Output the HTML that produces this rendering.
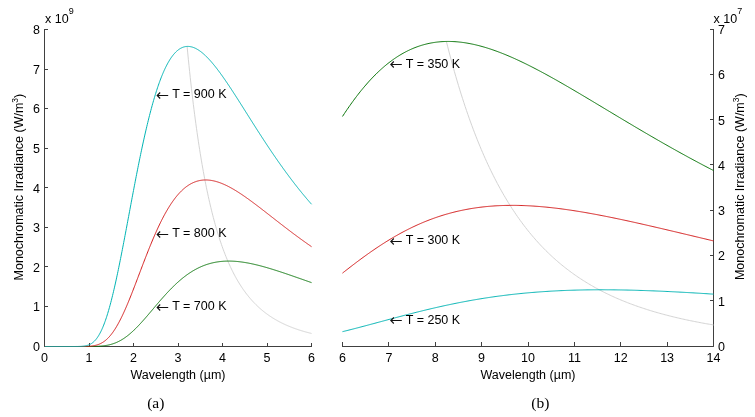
<!DOCTYPE html>
<html><head><meta charset="utf-8"><style>
html,body{margin:0;padding:0;background:#fff;}
svg{display:block;font-family:"Liberation Sans",sans-serif;}
</style></head><body>
<svg width="755" height="417" viewBox="0 0 755 417">
<rect width="755" height="417" fill="#fff"/>
<path d="M44.5,29.0 V346.5 H312.0" stroke="#404040" fill="none" stroke-width="1"/>
<path d="M44.5,346.5 H48" stroke="#404040" stroke-width="1"/>
<path d="M44.5,306.5 H48" stroke="#404040" stroke-width="1"/>
<path d="M44.5,266.5 H48" stroke="#404040" stroke-width="1"/>
<path d="M44.5,227.5 H48" stroke="#404040" stroke-width="1"/>
<path d="M44.5,187.5 H48" stroke="#404040" stroke-width="1"/>
<path d="M44.5,148.5 H48" stroke="#404040" stroke-width="1"/>
<path d="M44.5,108.5 H48" stroke="#404040" stroke-width="1"/>
<path d="M44.5,69.5 H48" stroke="#404040" stroke-width="1"/>
<path d="M44.5,29.5 H48" stroke="#404040" stroke-width="1"/>
<path d="M44.5,346.5 V343" stroke="#404040" stroke-width="1"/>
<path d="M89.5,346.5 V343" stroke="#404040" stroke-width="1"/>
<path d="M133.5,346.5 V343" stroke="#404040" stroke-width="1"/>
<path d="M178.5,346.5 V343" stroke="#404040" stroke-width="1"/>
<path d="M222.5,346.5 V343" stroke="#404040" stroke-width="1"/>
<path d="M267.5,346.5 V343" stroke="#404040" stroke-width="1"/>
<path d="M311.5,346.5 V343" stroke="#404040" stroke-width="1"/>
<path d="M342.0,346.5 H713.5 V29.0" stroke="#404040" fill="none" stroke-width="1"/>
<path d="M713.5,346.5 H710" stroke="#404040" stroke-width="1"/>
<path d="M713.5,300.5 H710" stroke="#404040" stroke-width="1"/>
<path d="M713.5,255.5 H710" stroke="#404040" stroke-width="1"/>
<path d="M713.5,210.5 H710" stroke="#404040" stroke-width="1"/>
<path d="M713.5,164.5 H710" stroke="#404040" stroke-width="1"/>
<path d="M713.5,119.5 H710" stroke="#404040" stroke-width="1"/>
<path d="M713.5,74.5 H710" stroke="#404040" stroke-width="1"/>
<path d="M713.5,29.5 H710" stroke="#404040" stroke-width="1"/>
<path d="M342.5,346.5 V342" stroke="#404040" stroke-width="1"/>
<path d="M388.5,346.5 V342" stroke="#404040" stroke-width="1"/>
<path d="M435.5,346.5 V342" stroke="#404040" stroke-width="1"/>
<path d="M481.5,346.5 V342" stroke="#404040" stroke-width="1"/>
<path d="M528.5,346.5 V342" stroke="#404040" stroke-width="1"/>
<path d="M574.5,346.5 V342" stroke="#404040" stroke-width="1"/>
<path d="M620.5,346.5 V342" stroke="#404040" stroke-width="1"/>
<path d="M667.5,346.5 V342" stroke="#404040" stroke-width="1"/>
<path d="M713.5,346.5 V342" stroke="#404040" stroke-width="1"/>
<path d="M187.10,46.43 L187.72,52.92 L188.35,59.24 L188.97,65.40 L189.60,71.41 L190.22,77.26 L190.85,82.96 L191.47,88.51 L192.10,93.93 L192.72,99.21 L193.35,104.36 L193.97,109.38 L194.60,114.28 L195.22,119.06 L195.85,123.72 L196.47,128.26 L197.10,132.69 L197.73,137.02 L198.35,141.24 L198.98,145.36 L199.60,149.38 L200.23,153.31 L200.85,157.14 L201.48,160.88 L202.10,164.53 L202.73,168.10 L203.35,171.58 L203.98,174.98 L204.60,178.30 L205.23,181.55 L205.85,184.72 L206.48,187.82 L207.10,190.85 L207.73,193.80 L208.35,196.69 L208.98,199.52 L209.60,202.28 L210.23,204.98 L210.85,207.62 L211.48,210.20 L212.10,212.72 L212.73,215.19 L213.35,217.60 L213.98,219.96 L214.60,222.27 L215.23,224.53 L215.85,226.74 L216.48,228.90 L217.10,231.01 L217.73,233.08 L218.35,235.11 L218.98,237.09 L219.60,239.03 L220.23,240.92 L220.86,242.78 L221.48,244.60 L222.11,246.38 L222.73,248.13 L223.36,249.83 L223.98,251.50 L224.61,253.14 L225.23,254.75 L225.86,256.32 L226.48,257.85 L227.11,259.36 L227.73,260.84 L228.36,262.28 L228.98,263.70 L229.61,265.09 L230.23,266.45 L230.86,267.78 L231.48,269.09 L232.11,270.37 L232.73,271.63 L233.36,272.86 L233.98,274.07 L234.61,275.25 L235.23,276.41 L235.86,277.55 L236.48,278.66 L237.11,279.76 L237.73,280.83 L238.36,281.88 L238.98,282.91 L239.61,283.92 L240.23,284.92 L240.86,285.89 L241.48,286.85 L242.11,287.78 L242.73,288.70 L243.36,289.61 L243.99,290.49 L244.61,291.36 L245.24,292.22 L245.86,293.05 L246.49,293.88 L247.11,294.68 L247.74,295.47 L248.36,296.25 L248.99,297.02 L249.61,297.76 L250.24,298.50 L250.86,299.22 L251.49,299.93 L252.11,300.63 L252.74,301.31 L253.36,301.99 L253.99,302.65 L254.61,303.30 L255.24,303.93 L255.86,304.56 L256.49,305.17 L257.11,305.78 L257.74,306.37 L258.36,306.95 L258.99,307.53 L259.61,308.09 L260.24,308.64 L260.86,309.19 L261.49,309.72 L262.11,310.25 L262.74,310.76 L263.36,311.27 L263.99,311.77 L264.61,312.26 L265.24,312.74 L265.87,313.22 L266.49,313.68 L267.12,314.14 L267.74,314.59 L268.37,315.03 L268.99,315.47 L269.62,315.90 L270.24,316.32 L270.87,316.73 L271.49,317.14 L272.12,317.54 L272.74,317.94 L273.37,318.32 L273.99,318.71 L274.62,319.08 L275.24,319.45 L275.87,319.81 L276.49,320.17 L277.12,320.52 L277.74,320.87 L278.37,321.21 L278.99,321.55 L279.62,321.88 L280.24,322.20 L280.87,322.52 L281.49,322.83 L282.12,323.14 L282.74,323.45 L283.37,323.75 L283.99,324.04 L284.62,324.34 L285.24,324.62 L285.87,324.90 L286.49,325.18 L287.12,325.45 L287.74,325.72 L288.37,325.99 L289.00,326.25 L289.62,326.51 L290.25,326.76 L290.87,327.01 L291.50,327.25 L292.12,327.50 L292.75,327.73 L293.37,327.97 L294.00,328.20 L294.62,328.43 L295.25,328.65 L295.87,328.87 L296.50,329.09 L297.12,329.30 L297.75,329.51 L298.37,329.72 L299.00,329.93 L299.62,330.13 L300.25,330.33 L300.87,330.53 L301.50,330.72 L302.12,330.91 L302.75,331.10 L303.37,331.28 L304.00,331.46 L304.62,331.64 L305.25,331.82 L305.87,332.00 L306.50,332.17 L307.12,332.34 L307.75,332.51 L308.37,332.67 L309.00,332.83 L309.62,332.99 L310.25,333.15 L310.87,333.31 L311.50,333.46" stroke="#d4d4d4" fill="none" stroke-width="1"/>
<path d="M44.95,346.50 L45.39,346.50 L45.84,346.50 L46.28,346.50 L46.73,346.50 L47.17,346.50 L47.62,346.50 L48.06,346.50 L48.51,346.50 L48.95,346.50 L49.40,346.50 L49.84,346.50 L50.28,346.50 L50.73,346.50 L51.17,346.50 L51.62,346.50 L52.06,346.50 L52.51,346.50 L52.95,346.50 L53.40,346.50 L53.84,346.50 L54.29,346.50 L54.73,346.50 L55.18,346.50 L55.62,346.50 L56.07,346.50 L56.52,346.50 L56.96,346.50 L57.41,346.50 L57.85,346.50 L58.30,346.50 L58.74,346.50 L59.19,346.50 L59.63,346.50 L60.08,346.50 L60.52,346.50 L60.97,346.50 L61.41,346.50 L61.86,346.50 L62.30,346.50 L62.75,346.50 L63.19,346.50 L63.64,346.50 L64.08,346.50 L64.53,346.50 L64.97,346.50 L65.42,346.50 L65.86,346.50 L66.31,346.50 L66.75,346.50 L67.19,346.50 L67.64,346.50 L68.09,346.50 L68.53,346.50 L68.97,346.50 L69.42,346.50 L69.87,346.50 L70.31,346.50 L70.75,346.50 L71.20,346.50 L71.64,346.50 L72.09,346.50 L72.53,346.50 L72.98,346.50 L73.42,346.50 L73.87,346.50 L74.31,346.50 L74.76,346.50 L75.20,346.50 L75.65,346.50 L76.09,346.50 L76.54,346.50 L76.98,346.50 L77.43,346.50 L77.88,346.50 L78.32,346.50 L78.77,346.50 L79.21,346.50 L79.66,346.50 L80.10,346.50 L80.55,346.50 L80.99,346.50 L81.44,346.50 L81.88,346.50 L82.32,346.50 L82.77,346.50 L83.22,346.50 L83.66,346.50 L84.11,346.50 L84.55,346.50 L85.00,346.50 L85.44,346.50 L85.88,346.49 L86.33,346.49 L86.78,346.49 L87.22,346.49 L87.66,346.49 L88.11,346.49 L88.56,346.49 L89.00,346.48 L89.44,346.48 L89.89,346.48 L90.34,346.47 L90.78,346.47 L91.22,346.46 L91.67,346.46 L92.12,346.45 L92.56,346.45 L93.00,346.44 L93.45,346.43 L93.90,346.42 L94.34,346.41 L94.78,346.40 L95.23,346.39 L95.68,346.37 L96.12,346.36 L96.56,346.34 L97.01,346.32 L97.45,346.30 L97.90,346.28 L98.34,346.26 L98.79,346.24 L99.23,346.21 L99.68,346.18 L100.12,346.15 L100.57,346.12 L101.02,346.08 L101.46,346.04 L101.91,346.00 L102.35,345.96 L102.80,345.91 L103.24,345.86 L103.69,345.81 L104.13,345.75 L104.58,345.70 L105.02,345.63 L105.47,345.57 L105.91,345.50 L106.36,345.42 L106.80,345.34 L107.25,345.26 L107.69,345.18 L108.13,345.09 L108.58,344.99 L109.03,344.89 L109.47,344.79 L109.91,344.68 L110.36,344.56 L110.80,344.45 L111.25,344.32 L111.69,344.19 L112.14,344.06 L112.59,343.92 L113.03,343.77 L113.48,343.62 L113.92,343.47 L114.36,343.31 L114.81,343.14 L115.26,342.96 L115.70,342.79 L116.15,342.60 L116.59,342.41 L117.03,342.21 L117.48,342.01 L117.93,341.80 L118.37,341.58 L118.81,341.36 L119.26,341.13 L119.70,340.90 L120.15,340.66 L120.59,340.41 L121.04,340.16 L121.48,339.90 L121.93,339.63 L122.38,339.36 L122.82,339.08 L123.27,338.80 L123.71,338.51 L124.16,338.21 L124.60,337.91 L125.05,337.60 L125.49,337.28 L125.94,336.96 L126.38,336.63 L126.83,336.30 L127.27,335.96 L127.72,335.61 L128.16,335.26 L128.61,334.90 L129.05,334.54 L129.50,334.17 L129.94,333.80 L130.38,333.42 L130.83,333.03 L131.28,332.64 L131.72,332.24 L132.16,331.84 L132.61,331.43 L133.06,331.02 L133.50,330.61 L133.94,330.18 L134.39,329.76 L134.84,329.33 L135.28,328.89 L135.72,328.45 L136.17,328.00 L136.62,327.56 L137.06,327.10 L137.50,326.65 L137.95,326.18 L138.39,325.72 L138.84,325.25 L139.28,324.78 L139.73,324.30 L140.18,323.82 L140.62,323.34 L141.06,322.85 L141.51,322.36 L141.95,321.87 L142.40,321.38 L142.84,320.88 L143.29,320.38 L143.74,319.88 L144.18,319.37 L144.62,318.87 L145.07,318.36 L145.51,317.85 L145.96,317.33 L146.41,316.82 L146.85,316.30 L147.30,315.79 L147.74,315.27 L148.19,314.75 L148.63,314.22 L149.07,313.70 L149.52,313.18 L149.97,312.65 L150.41,312.13 L150.86,311.60 L151.30,311.08 L151.75,310.55 L152.19,310.02 L152.63,309.50 L153.08,308.97 L153.53,308.44 L153.97,307.92 L154.42,307.39 L154.86,306.86 L155.31,306.34 L155.75,305.81 L156.20,305.29 L156.64,304.77 L157.09,304.24 L157.53,303.72 L157.98,303.20 L158.42,302.68 L158.87,302.16 L159.31,301.65 L159.75,301.13 L160.20,300.62 L160.64,300.10 L161.09,299.59 L161.53,299.08 L161.98,298.58 L162.43,298.07 L162.87,297.57 L163.31,297.07 L163.76,296.57 L164.20,296.07 L164.65,295.58 L165.09,295.08 L165.54,294.59 L165.99,294.11 L166.43,293.62 L166.88,293.14 L167.32,292.66 L167.76,292.18 L168.21,291.71 L168.66,291.24 L169.10,290.77 L169.55,290.30 L169.99,289.84 L170.44,289.38 L170.88,288.93 L171.32,288.47 L171.77,288.02 L172.22,287.58 L172.66,287.13 L173.11,286.69 L173.55,286.26 L174.00,285.82 L174.44,285.39 L174.88,284.97 L175.33,284.54 L175.78,284.13 L176.22,283.71 L176.67,283.30 L177.11,282.89 L177.56,282.48 L178.00,282.08 L178.45,281.69 L178.89,281.29 L179.34,280.90 L179.78,280.52 L180.23,280.14 L180.67,279.76 L181.12,279.38 L181.56,279.01 L182.00,278.65 L182.45,278.28 L182.89,277.92 L183.34,277.57 L183.78,277.22 L184.23,276.87 L184.68,276.53 L185.12,276.19 L185.56,275.86 L186.01,275.52 L186.45,275.20 L186.90,274.87 L187.34,274.56 L187.79,274.24 L188.23,273.93 L188.68,273.62 L189.12,273.32 L189.57,273.02 L190.02,272.73 L190.46,272.44 L190.91,272.15 L191.35,271.87 L191.79,271.59 L192.24,271.31 L192.69,271.04 L193.13,270.78 L193.58,270.51 L194.02,270.26 L194.47,270.00 L194.91,269.75 L195.36,269.50 L195.80,269.26 L196.25,269.02 L196.69,268.79 L197.13,268.56 L197.58,268.33 L198.03,268.11 L198.47,267.89 L198.92,267.67 L199.36,267.46 L199.81,267.25 L200.25,267.05 L200.70,266.85 L201.14,266.65 L201.59,266.46 L202.03,266.27 L202.47,266.09 L202.92,265.91 L203.37,265.73 L203.81,265.55 L204.25,265.38 L204.70,265.22 L205.15,265.06 L205.59,264.90 L206.03,264.74 L206.48,264.59 L206.92,264.44 L207.37,264.30 L207.81,264.16 L208.26,264.02 L208.70,263.88 L209.15,263.75 L209.59,263.63 L210.04,263.50 L210.49,263.38 L210.93,263.26 L211.38,263.15 L211.82,263.04 L212.26,262.93 L212.71,262.83 L213.16,262.73 L213.60,262.63 L214.05,262.54 L214.49,262.45 L214.94,262.36 L215.38,262.27 L215.83,262.19 L216.27,262.11 L216.72,262.04 L217.16,261.97 L217.60,261.90 L218.05,261.83 L218.50,261.77 L218.94,261.71 L219.39,261.65 L219.83,261.60 L220.28,261.55 L220.72,261.50 L221.17,261.45 L221.61,261.41 L222.06,261.37 L222.50,261.33 L222.94,261.30 L223.39,261.26 L223.84,261.24 L224.28,261.21 L224.72,261.19 L225.17,261.16 L225.62,261.15 L226.06,261.13 L226.50,261.12 L226.95,261.10 L227.40,261.10 L227.84,261.09 L228.28,261.09 L228.73,261.09 L229.18,261.09 L229.62,261.09 L230.06,261.10 L230.51,261.10 L230.96,261.12 L231.40,261.13 L231.84,261.14 L232.29,261.16 L232.74,261.18 L233.18,261.20 L233.62,261.23 L234.07,261.25 L234.52,261.28 L234.96,261.31 L235.41,261.34 L235.85,261.38 L236.30,261.41 L236.74,261.45 L237.19,261.49 L237.63,261.54 L238.08,261.58 L238.52,261.63 L238.97,261.68 L239.41,261.73 L239.85,261.78 L240.30,261.83 L240.75,261.89 L241.19,261.94 L241.63,262.00 L242.08,262.06 L242.53,262.13 L242.97,262.19 L243.41,262.26 L243.86,262.33 L244.31,262.39 L244.75,262.47 L245.19,262.54 L245.64,262.61 L246.09,262.69 L246.53,262.77 L246.97,262.84 L247.42,262.92 L247.87,263.01 L248.31,263.09 L248.75,263.17 L249.20,263.26 L249.65,263.35 L250.09,263.44 L250.53,263.53 L250.98,263.62 L251.43,263.71 L251.87,263.81 L252.31,263.90 L252.76,264.00 L253.21,264.10 L253.65,264.20 L254.09,264.30 L254.54,264.40 L254.99,264.50 L255.43,264.61 L255.88,264.71 L256.32,264.82 L256.76,264.92 L257.21,265.03 L257.65,265.14 L258.10,265.25 L258.55,265.37 L258.99,265.48 L259.44,265.59 L259.88,265.71 L260.33,265.82 L260.77,265.94 L261.22,266.06 L261.66,266.18 L262.11,266.30 L262.55,266.42 L263.00,266.54 L263.44,266.66 L263.88,266.79 L264.33,266.91 L264.77,267.03 L265.22,267.16 L265.66,267.29 L266.11,267.41 L266.56,267.54 L267.00,267.67 L267.44,267.80 L267.89,267.93 L268.34,268.06 L268.78,268.19 L269.23,268.33 L269.67,268.46 L270.12,268.59 L270.56,268.73 L271.00,268.86 L271.45,269.00 L271.89,269.14 L272.34,269.27 L272.78,269.41 L273.23,269.55 L273.68,269.69 L274.12,269.83 L274.56,269.97 L275.01,270.11 L275.46,270.25 L275.90,270.39 L276.35,270.54 L276.79,270.68 L277.24,270.82 L277.68,270.96 L278.12,271.11 L278.57,271.25 L279.01,271.40 L279.46,271.54 L279.90,271.69 L280.35,271.84 L280.80,271.98 L281.24,272.13 L281.69,272.28 L282.13,272.43 L282.58,272.57 L283.02,272.72 L283.47,272.87 L283.91,273.02 L284.36,273.17 L284.80,273.32 L285.25,273.47 L285.69,273.62 L286.13,273.77 L286.58,273.92 L287.02,274.07 L287.47,274.22 L287.91,274.38 L288.36,274.53 L288.81,274.68 L289.25,274.83 L289.69,274.99 L290.14,275.14 L290.59,275.29 L291.03,275.45 L291.48,275.60 L291.92,275.75 L292.37,275.91 L292.81,276.06 L293.25,276.22 L293.70,276.37 L294.14,276.52 L294.59,276.68 L295.03,276.83 L295.48,276.99 L295.93,277.14 L296.37,277.30 L296.81,277.45 L297.26,277.61 L297.71,277.77 L298.15,277.92 L298.60,278.08 L299.04,278.23 L299.49,278.39 L299.93,278.54 L300.38,278.70 L300.82,278.86 L301.27,279.01 L301.71,279.17 L302.15,279.32 L302.60,279.48 L303.05,279.64 L303.49,279.79 L303.94,279.95 L304.38,280.10 L304.83,280.26 L305.27,280.42 L305.72,280.57 L306.16,280.73 L306.60,280.88 L307.05,281.04 L307.50,281.20 L307.94,281.35 L308.38,281.51 L308.83,281.66 L309.28,281.82 L309.72,281.98 L310.17,282.13 L310.61,282.29 L311.06,282.44 L311.50,282.60" stroke="#087508" fill="none" stroke-width="1"/>
<path d="M44.95,346.50 L45.39,346.50 L45.84,346.50 L46.28,346.50 L46.73,346.50 L47.17,346.50 L47.62,346.50 L48.06,346.50 L48.51,346.50 L48.95,346.50 L49.40,346.50 L49.84,346.50 L50.28,346.50 L50.73,346.50 L51.17,346.50 L51.62,346.50 L52.06,346.50 L52.51,346.50 L52.95,346.50 L53.40,346.50 L53.84,346.50 L54.29,346.50 L54.73,346.50 L55.18,346.50 L55.62,346.50 L56.07,346.50 L56.52,346.50 L56.96,346.50 L57.41,346.50 L57.85,346.50 L58.30,346.50 L58.74,346.50 L59.19,346.50 L59.63,346.50 L60.08,346.50 L60.52,346.50 L60.97,346.50 L61.41,346.50 L61.86,346.50 L62.30,346.50 L62.75,346.50 L63.19,346.50 L63.64,346.50 L64.08,346.50 L64.53,346.50 L64.97,346.50 L65.42,346.50 L65.86,346.50 L66.31,346.50 L66.75,346.50 L67.19,346.50 L67.64,346.50 L68.09,346.50 L68.53,346.50 L68.97,346.50 L69.42,346.50 L69.87,346.50 L70.31,346.50 L70.75,346.50 L71.20,346.50 L71.64,346.50 L72.09,346.50 L72.53,346.50 L72.98,346.50 L73.42,346.50 L73.87,346.50 L74.31,346.50 L74.76,346.50 L75.20,346.50 L75.65,346.50 L76.09,346.50 L76.54,346.50 L76.98,346.50 L77.43,346.50 L77.88,346.50 L78.32,346.50 L78.77,346.50 L79.21,346.50 L79.66,346.49 L80.10,346.49 L80.55,346.49 L80.99,346.49 L81.44,346.49 L81.88,346.48 L82.32,346.48 L82.77,346.47 L83.22,346.47 L83.66,346.46 L84.11,346.46 L84.55,346.45 L85.00,346.44 L85.44,346.43 L85.88,346.42 L86.33,346.40 L86.78,346.39 L87.22,346.37 L87.66,346.35 L88.11,346.32 L88.56,346.30 L89.00,346.27 L89.44,346.24 L89.89,346.21 L90.34,346.17 L90.78,346.12 L91.22,346.08 L91.67,346.03 L92.12,345.97 L92.56,345.91 L93.00,345.84 L93.45,345.77 L93.90,345.69 L94.34,345.61 L94.78,345.52 L95.23,345.42 L95.68,345.31 L96.12,345.20 L96.56,345.08 L97.01,344.95 L97.45,344.81 L97.90,344.66 L98.34,344.50 L98.79,344.33 L99.23,344.16 L99.68,343.97 L100.12,343.77 L100.57,343.56 L101.02,343.33 L101.46,343.10 L101.91,342.85 L102.35,342.59 L102.80,342.32 L103.24,342.04 L103.69,341.74 L104.13,341.43 L104.58,341.10 L105.02,340.76 L105.47,340.41 L105.91,340.04 L106.36,339.66 L106.80,339.26 L107.25,338.84 L107.69,338.41 L108.13,337.97 L108.58,337.51 L109.03,337.04 L109.47,336.54 L109.91,336.04 L110.36,335.51 L110.80,334.98 L111.25,334.42 L111.69,333.85 L112.14,333.26 L112.59,332.66 L113.03,332.04 L113.48,331.41 L113.92,330.75 L114.36,330.09 L114.81,329.41 L115.26,328.71 L115.70,327.99 L116.15,327.26 L116.59,326.52 L117.03,325.76 L117.48,324.98 L117.93,324.19 L118.37,323.39 L118.81,322.57 L119.26,321.73 L119.70,320.89 L120.15,320.02 L120.59,319.15 L121.04,318.26 L121.48,317.36 L121.93,316.44 L122.38,315.51 L122.82,314.57 L123.27,313.62 L123.71,312.65 L124.16,311.68 L124.60,310.69 L125.05,309.69 L125.49,308.68 L125.94,307.66 L126.38,306.63 L126.83,305.59 L127.27,304.54 L127.72,303.49 L128.16,302.42 L128.61,301.34 L129.05,300.26 L129.50,299.17 L129.94,298.07 L130.38,296.97 L130.83,295.86 L131.28,294.74 L131.72,293.61 L132.16,292.48 L132.61,291.35 L133.06,290.21 L133.50,289.06 L133.94,287.91 L134.39,286.76 L134.84,285.61 L135.28,284.45 L135.72,283.28 L136.17,282.12 L136.62,280.95 L137.06,279.78 L137.50,278.61 L137.95,277.44 L138.39,276.26 L138.84,275.09 L139.28,273.92 L139.73,272.74 L140.18,271.57 L140.62,270.40 L141.06,269.22 L141.51,268.05 L141.95,266.88 L142.40,265.72 L142.84,264.55 L143.29,263.39 L143.74,262.23 L144.18,261.07 L144.62,259.91 L145.07,258.76 L145.51,257.61 L145.96,256.47 L146.41,255.33 L146.85,254.20 L147.30,253.07 L147.74,251.94 L148.19,250.82 L148.63,249.70 L149.07,248.59 L149.52,247.49 L149.97,246.39 L150.41,245.30 L150.86,244.22 L151.30,243.14 L151.75,242.06 L152.19,241.00 L152.63,239.94 L153.08,238.89 L153.53,237.84 L153.97,236.81 L154.42,235.78 L154.86,234.76 L155.31,233.74 L155.75,232.74 L156.20,231.74 L156.64,230.76 L157.09,229.78 L157.53,228.80 L157.98,227.84 L158.42,226.89 L158.87,225.94 L159.31,225.01 L159.75,224.08 L160.20,223.16 L160.64,222.26 L161.09,221.36 L161.53,220.47 L161.98,219.59 L162.43,218.72 L162.87,217.86 L163.31,217.01 L163.76,216.17 L164.20,215.33 L164.65,214.51 L165.09,213.70 L165.54,212.90 L165.99,212.11 L166.43,211.33 L166.88,210.56 L167.32,209.80 L167.76,209.05 L168.21,208.31 L168.66,207.57 L169.10,206.85 L169.55,206.14 L169.99,205.45 L170.44,204.76 L170.88,204.08 L171.32,203.41 L171.77,202.75 L172.22,202.10 L172.66,201.46 L173.11,200.83 L173.55,200.22 L174.00,199.61 L174.44,199.01 L174.88,198.43 L175.33,197.85 L175.78,197.28 L176.22,196.73 L176.67,196.18 L177.11,195.64 L177.56,195.12 L178.00,194.60 L178.45,194.09 L178.89,193.60 L179.34,193.11 L179.78,192.63 L180.23,192.17 L180.67,191.71 L181.12,191.26 L181.56,190.82 L182.00,190.40 L182.45,189.98 L182.89,189.57 L183.34,189.17 L183.78,188.78 L184.23,188.40 L184.68,188.03 L185.12,187.67 L185.56,187.31 L186.01,186.97 L186.45,186.64 L186.90,186.31 L187.34,185.99 L187.79,185.69 L188.23,185.39 L188.68,185.10 L189.12,184.82 L189.57,184.55 L190.02,184.28 L190.46,184.03 L190.91,183.78 L191.35,183.54 L191.79,183.31 L192.24,183.09 L192.69,182.88 L193.13,182.67 L193.58,182.48 L194.02,182.29 L194.47,182.11 L194.91,181.93 L195.36,181.77 L195.80,181.61 L196.25,181.46 L196.69,181.32 L197.13,181.19 L197.58,181.06 L198.03,180.94 L198.47,180.83 L198.92,180.72 L199.36,180.62 L199.81,180.53 L200.25,180.45 L200.70,180.37 L201.14,180.30 L201.59,180.24 L202.03,180.18 L202.47,180.14 L202.92,180.09 L203.37,180.06 L203.81,180.03 L204.25,180.00 L204.70,179.99 L205.15,179.98 L205.59,179.97 L206.03,179.97 L206.48,179.98 L206.92,179.99 L207.37,180.01 L207.81,180.04 L208.26,180.07 L208.70,180.11 L209.15,180.15 L209.59,180.20 L210.04,180.25 L210.49,180.31 L210.93,180.38 L211.38,180.45 L211.82,180.52 L212.26,180.60 L212.71,180.69 L213.16,180.78 L213.60,180.87 L214.05,180.97 L214.49,181.08 L214.94,181.19 L215.38,181.31 L215.83,181.42 L216.27,181.55 L216.72,181.68 L217.16,181.81 L217.60,181.95 L218.05,182.09 L218.50,182.24 L218.94,182.39 L219.39,182.54 L219.83,182.70 L220.28,182.86 L220.72,183.03 L221.17,183.20 L221.61,183.38 L222.06,183.56 L222.50,183.74 L222.94,183.92 L223.39,184.11 L223.84,184.31 L224.28,184.51 L224.72,184.71 L225.17,184.91 L225.62,185.12 L226.06,185.33 L226.50,185.54 L226.95,185.76 L227.40,185.98 L227.84,186.20 L228.28,186.43 L228.73,186.66 L229.18,186.89 L229.62,187.13 L230.06,187.37 L230.51,187.61 L230.96,187.85 L231.40,188.10 L231.84,188.35 L232.29,188.60 L232.74,188.85 L233.18,189.11 L233.62,189.37 L234.07,189.63 L234.52,189.90 L234.96,190.16 L235.41,190.43 L235.85,190.71 L236.30,190.98 L236.74,191.26 L237.19,191.53 L237.63,191.81 L238.08,192.10 L238.52,192.38 L238.97,192.67 L239.41,192.96 L239.85,193.25 L240.30,193.54 L240.75,193.83 L241.19,194.13 L241.63,194.42 L242.08,194.72 L242.53,195.02 L242.97,195.33 L243.41,195.63 L243.86,195.94 L244.31,196.24 L244.75,196.55 L245.19,196.86 L245.64,197.17 L246.09,197.49 L246.53,197.80 L246.97,198.12 L247.42,198.43 L247.87,198.75 L248.31,199.07 L248.75,199.39 L249.20,199.71 L249.65,200.04 L250.09,200.36 L250.53,200.69 L250.98,201.01 L251.43,201.34 L251.87,201.67 L252.31,202.00 L252.76,202.33 L253.21,202.66 L253.65,202.99 L254.09,203.32 L254.54,203.66 L254.99,203.99 L255.43,204.32 L255.88,204.66 L256.32,205.00 L256.76,205.33 L257.21,205.67 L257.65,206.01 L258.10,206.35 L258.55,206.69 L258.99,207.03 L259.44,207.37 L259.88,207.71 L260.33,208.05 L260.77,208.40 L261.22,208.74 L261.66,209.08 L262.11,209.43 L262.55,209.77 L263.00,210.11 L263.44,210.46 L263.88,210.80 L264.33,211.15 L264.77,211.50 L265.22,211.84 L265.66,212.19 L266.11,212.53 L266.56,212.88 L267.00,213.23 L267.44,213.58 L267.89,213.92 L268.34,214.27 L268.78,214.62 L269.23,214.96 L269.67,215.31 L270.12,215.66 L270.56,216.01 L271.00,216.36 L271.45,216.70 L271.89,217.05 L272.34,217.40 L272.78,217.75 L273.23,218.09 L273.68,218.44 L274.12,218.79 L274.56,219.14 L275.01,219.48 L275.46,219.83 L275.90,220.18 L276.35,220.53 L276.79,220.87 L277.24,221.22 L277.68,221.57 L278.12,221.91 L278.57,222.26 L279.01,222.61 L279.46,222.95 L279.90,223.30 L280.35,223.64 L280.80,223.99 L281.24,224.33 L281.69,224.68 L282.13,225.02 L282.58,225.36 L283.02,225.71 L283.47,226.05 L283.91,226.39 L284.36,226.73 L284.80,227.08 L285.25,227.42 L285.69,227.76 L286.13,228.10 L286.58,228.44 L287.02,228.78 L287.47,229.12 L287.91,229.46 L288.36,229.80 L288.81,230.14 L289.25,230.48 L289.69,230.81 L290.14,231.15 L290.59,231.49 L291.03,231.82 L291.48,232.16 L291.92,232.49 L292.37,232.83 L292.81,233.16 L293.25,233.50 L293.70,233.83 L294.14,234.16 L294.59,234.49 L295.03,234.82 L295.48,235.15 L295.93,235.48 L296.37,235.81 L296.81,236.14 L297.26,236.47 L297.71,236.80 L298.15,237.13 L298.60,237.45 L299.04,237.78 L299.49,238.11 L299.93,238.43 L300.38,238.75 L300.82,239.08 L301.27,239.40 L301.71,239.72 L302.15,240.05 L302.60,240.37 L303.05,240.69 L303.49,241.01 L303.94,241.33 L304.38,241.64 L304.83,241.96 L305.27,242.28 L305.72,242.60 L306.16,242.91 L306.60,243.23 L307.05,243.54 L307.50,243.86 L307.94,244.17 L308.38,244.48 L308.83,244.79 L309.28,245.10 L309.72,245.41 L310.17,245.72 L310.61,246.03 L311.06,246.34 L311.50,246.65" stroke="#d41c1c" fill="none" stroke-width="1"/>
<path d="M44.95,346.50 L45.39,346.50 L45.84,346.50 L46.28,346.50 L46.73,346.50 L47.17,346.50 L47.62,346.50 L48.06,346.50 L48.51,346.50 L48.95,346.50 L49.40,346.50 L49.84,346.50 L50.28,346.50 L50.73,346.50 L51.17,346.50 L51.62,346.50 L52.06,346.50 L52.51,346.50 L52.95,346.50 L53.40,346.50 L53.84,346.50 L54.29,346.50 L54.73,346.50 L55.18,346.50 L55.62,346.50 L56.07,346.50 L56.52,346.50 L56.96,346.50 L57.41,346.50 L57.85,346.50 L58.30,346.50 L58.74,346.50 L59.19,346.50 L59.63,346.50 L60.08,346.50 L60.52,346.50 L60.97,346.50 L61.41,346.50 L61.86,346.50 L62.30,346.50 L62.75,346.50 L63.19,346.50 L63.64,346.50 L64.08,346.50 L64.53,346.50 L64.97,346.50 L65.42,346.50 L65.86,346.50 L66.31,346.50 L66.75,346.50 L67.19,346.50 L67.64,346.50 L68.09,346.50 L68.53,346.50 L68.97,346.50 L69.42,346.50 L69.87,346.50 L70.31,346.50 L70.75,346.50 L71.20,346.50 L71.64,346.50 L72.09,346.50 L72.53,346.50 L72.98,346.50 L73.42,346.50 L73.87,346.50 L74.31,346.50 L74.76,346.49 L75.20,346.49 L75.65,346.49 L76.09,346.49 L76.54,346.48 L76.98,346.48 L77.43,346.47 L77.88,346.47 L78.32,346.46 L78.77,346.45 L79.21,346.44 L79.66,346.42 L80.10,346.41 L80.55,346.39 L80.99,346.36 L81.44,346.34 L81.88,346.31 L82.32,346.27 L82.77,346.23 L83.22,346.19 L83.66,346.14 L84.11,346.08 L84.55,346.02 L85.00,345.94 L85.44,345.86 L85.88,345.77 L86.33,345.67 L86.78,345.56 L87.22,345.44 L87.66,345.30 L88.11,345.15 L88.56,344.99 L89.00,344.81 L89.44,344.62 L89.89,344.41 L90.34,344.18 L90.78,343.94 L91.22,343.67 L91.67,343.39 L92.12,343.08 L92.56,342.75 L93.00,342.40 L93.45,342.02 L93.90,341.62 L94.34,341.20 L94.78,340.74 L95.23,340.26 L95.68,339.76 L96.12,339.22 L96.56,338.65 L97.01,338.06 L97.45,337.43 L97.90,336.77 L98.34,336.08 L98.79,335.36 L99.23,334.60 L99.68,333.81 L100.12,332.99 L100.57,332.13 L101.02,331.23 L101.46,330.30 L101.91,329.34 L102.35,328.33 L102.80,327.30 L103.24,326.22 L103.69,325.11 L104.13,323.96 L104.58,322.78 L105.02,321.56 L105.47,320.30 L105.91,319.01 L106.36,317.68 L106.80,316.31 L107.25,314.91 L107.69,313.47 L108.13,312.00 L108.58,310.49 L109.03,308.95 L109.47,307.37 L109.91,305.76 L110.36,304.11 L110.80,302.44 L111.25,300.73 L111.69,298.98 L112.14,297.21 L112.59,295.41 L113.03,293.57 L113.48,291.71 L113.92,289.81 L114.36,287.89 L114.81,285.94 L115.26,283.97 L115.70,281.97 L116.15,279.94 L116.59,277.89 L117.03,275.82 L117.48,273.72 L117.93,271.60 L118.37,269.47 L118.81,267.31 L119.26,265.13 L119.70,262.93 L120.15,260.72 L120.59,258.49 L121.04,256.24 L121.48,253.98 L121.93,251.70 L122.38,249.42 L122.82,247.11 L123.27,244.80 L123.71,242.48 L124.16,240.15 L124.60,237.81 L125.05,235.46 L125.49,233.10 L125.94,230.74 L126.38,228.38 L126.83,226.01 L127.27,223.63 L127.72,221.25 L128.16,218.88 L128.61,216.50 L129.05,214.12 L129.50,211.74 L129.94,209.36 L130.38,206.98 L130.83,204.61 L131.28,202.24 L131.72,199.87 L132.16,197.51 L132.61,195.16 L133.06,192.81 L133.50,190.47 L133.94,188.13 L134.39,185.81 L134.84,183.49 L135.28,181.19 L135.72,178.89 L136.17,176.61 L136.62,174.33 L137.06,172.07 L137.50,169.82 L137.95,167.59 L138.39,165.36 L138.84,163.16 L139.28,160.96 L139.73,158.78 L140.18,156.62 L140.62,154.47 L141.06,152.34 L141.51,150.23 L141.95,148.13 L142.40,146.06 L142.84,143.99 L143.29,141.95 L143.74,139.93 L144.18,137.92 L144.62,135.94 L145.07,133.97 L145.51,132.03 L145.96,130.10 L146.41,128.20 L146.85,126.31 L147.30,124.45 L147.74,122.61 L148.19,120.79 L148.63,118.99 L149.07,117.21 L149.52,115.45 L149.97,113.72 L150.41,112.01 L150.86,110.32 L151.30,108.66 L151.75,107.01 L152.19,105.39 L152.63,103.79 L153.08,102.22 L153.53,100.67 L153.97,99.14 L154.42,97.63 L154.86,96.15 L155.31,94.69 L155.75,93.26 L156.20,91.85 L156.64,90.46 L157.09,89.09 L157.53,87.75 L157.98,86.43 L158.42,85.14 L158.87,83.87 L159.31,82.62 L159.75,81.39 L160.20,80.19 L160.64,79.01 L161.09,77.86 L161.53,76.73 L161.98,75.62 L162.43,74.53 L162.87,73.47 L163.31,72.43 L163.76,71.41 L164.20,70.41 L164.65,69.44 L165.09,68.49 L165.54,67.56 L165.99,66.66 L166.43,65.77 L166.88,64.91 L167.32,64.07 L167.76,63.25 L168.21,62.46 L168.66,61.68 L169.10,60.93 L169.55,60.20 L169.99,59.48 L170.44,58.79 L170.88,58.12 L171.32,57.48 L171.77,56.85 L172.22,56.24 L172.66,55.65 L173.11,55.08 L173.55,54.53 L174.00,54.00 L174.44,53.50 L174.88,53.01 L175.33,52.53 L175.78,52.08 L176.22,51.65 L176.67,51.24 L177.11,50.84 L177.56,50.46 L178.00,50.10 L178.45,49.76 L178.89,49.44 L179.34,49.13 L179.78,48.84 L180.23,48.57 L180.67,48.31 L181.12,48.08 L181.56,47.86 L182.00,47.65 L182.45,47.46 L182.89,47.29 L183.34,47.13 L183.78,46.99 L184.23,46.87 L184.68,46.76 L185.12,46.66 L185.56,46.59 L186.01,46.52 L186.45,46.47 L186.90,46.44 L187.34,46.42 L187.79,46.41 L188.23,46.42 L188.68,46.44 L189.12,46.47 L189.57,46.52 L190.02,46.58 L190.46,46.66 L190.91,46.74 L191.35,46.84 L191.79,46.96 L192.24,47.08 L192.69,47.22 L193.13,47.37 L193.58,47.53 L194.02,47.70 L194.47,47.89 L194.91,48.08 L195.36,48.29 L195.80,48.51 L196.25,48.73 L196.69,48.97 L197.13,49.22 L197.58,49.49 L198.03,49.76 L198.47,50.04 L198.92,50.33 L199.36,50.63 L199.81,50.94 L200.25,51.26 L200.70,51.59 L201.14,51.92 L201.59,52.27 L202.03,52.63 L202.47,52.99 L202.92,53.37 L203.37,53.75 L203.81,54.14 L204.25,54.54 L204.70,54.94 L205.15,55.36 L205.59,55.78 L206.03,56.21 L206.48,56.64 L206.92,57.09 L207.37,57.54 L207.81,58.00 L208.26,58.46 L208.70,58.93 L209.15,59.41 L209.59,59.90 L210.04,60.39 L210.49,60.89 L210.93,61.39 L211.38,61.90 L211.82,62.42 L212.26,62.94 L212.71,63.47 L213.16,64.00 L213.60,64.54 L214.05,65.08 L214.49,65.63 L214.94,66.19 L215.38,66.74 L215.83,67.31 L216.27,67.88 L216.72,68.45 L217.16,69.03 L217.60,69.61 L218.05,70.20 L218.50,70.79 L218.94,71.39 L219.39,71.99 L219.83,72.59 L220.28,73.20 L220.72,73.81 L221.17,74.42 L221.61,75.04 L222.06,75.66 L222.50,76.29 L222.94,76.92 L223.39,77.55 L223.84,78.19 L224.28,78.82 L224.72,79.47 L225.17,80.11 L225.62,80.76 L226.06,81.41 L226.50,82.06 L226.95,82.71 L227.40,83.37 L227.84,84.03 L228.28,84.69 L228.73,85.36 L229.18,86.03 L229.62,86.69 L230.06,87.37 L230.51,88.04 L230.96,88.71 L231.40,89.39 L231.84,90.07 L232.29,90.75 L232.74,91.43 L233.18,92.12 L233.62,92.80 L234.07,93.49 L234.52,94.17 L234.96,94.86 L235.41,95.55 L235.85,96.25 L236.30,96.94 L236.74,97.63 L237.19,98.33 L237.63,99.02 L238.08,99.72 L238.52,100.42 L238.97,101.12 L239.41,101.82 L239.85,102.52 L240.30,103.22 L240.75,103.92 L241.19,104.62 L241.63,105.32 L242.08,106.03 L242.53,106.73 L242.97,107.43 L243.41,108.14 L243.86,108.84 L244.31,109.55 L244.75,110.25 L245.19,110.96 L245.64,111.66 L246.09,112.37 L246.53,113.07 L246.97,113.78 L247.42,114.48 L247.87,115.19 L248.31,115.89 L248.75,116.60 L249.20,117.30 L249.65,118.01 L250.09,118.71 L250.53,119.41 L250.98,120.12 L251.43,120.82 L251.87,121.52 L252.31,122.22 L252.76,122.93 L253.21,123.63 L253.65,124.33 L254.09,125.03 L254.54,125.73 L254.99,126.43 L255.43,127.12 L255.88,127.82 L256.32,128.52 L256.76,129.21 L257.21,129.91 L257.65,130.60 L258.10,131.30 L258.55,131.99 L258.99,132.68 L259.44,133.37 L259.88,134.06 L260.33,134.75 L260.77,135.44 L261.22,136.13 L261.66,136.81 L262.11,137.50 L262.55,138.18 L263.00,138.86 L263.44,139.55 L263.88,140.23 L264.33,140.91 L264.77,141.58 L265.22,142.26 L265.66,142.94 L266.11,143.61 L266.56,144.29 L267.00,144.96 L267.44,145.63 L267.89,146.30 L268.34,146.97 L268.78,147.63 L269.23,148.30 L269.67,148.96 L270.12,149.63 L270.56,150.29 L271.00,150.95 L271.45,151.61 L271.89,152.27 L272.34,152.92 L272.78,153.58 L273.23,154.23 L273.68,154.88 L274.12,155.53 L274.56,156.18 L275.01,156.83 L275.46,157.48 L275.90,158.12 L276.35,158.76 L276.79,159.40 L277.24,160.04 L277.68,160.68 L278.12,161.32 L278.57,161.95 L279.01,162.59 L279.46,163.22 L279.90,163.85 L280.35,164.48 L280.80,165.11 L281.24,165.73 L281.69,166.35 L282.13,166.98 L282.58,167.60 L283.02,168.22 L283.47,168.83 L283.91,169.45 L284.36,170.06 L284.80,170.68 L285.25,171.29 L285.69,171.89 L286.13,172.50 L286.58,173.11 L287.02,173.71 L287.47,174.31 L287.91,174.91 L288.36,175.51 L288.81,176.11 L289.25,176.70 L289.69,177.30 L290.14,177.89 L290.59,178.48 L291.03,179.07 L291.48,179.65 L291.92,180.24 L292.37,180.82 L292.81,181.40 L293.25,181.98 L293.70,182.56 L294.14,183.14 L294.59,183.71 L295.03,184.28 L295.48,184.86 L295.93,185.42 L296.37,185.99 L296.81,186.56 L297.26,187.12 L297.71,187.68 L298.15,188.24 L298.60,188.80 L299.04,189.36 L299.49,189.91 L299.93,190.47 L300.38,191.02 L300.82,191.57 L301.27,192.12 L301.71,192.66 L302.15,193.21 L302.60,193.75 L303.05,194.29 L303.49,194.83 L303.94,195.37 L304.38,195.90 L304.83,196.43 L305.27,196.97 L305.72,197.50 L306.16,198.03 L306.60,198.55 L307.05,199.08 L307.50,199.60 L307.94,200.12 L308.38,200.64 L308.83,201.16 L309.28,201.67 L309.72,202.19 L310.17,202.70 L310.61,203.21 L311.06,203.72 L311.50,204.23" stroke="#00b4b4" fill="none" stroke-width="1"/>
<path d="M446.38,41.47 L447.72,46.77 L449.06,51.96 L450.41,57.04 L451.75,62.02 L453.09,66.90 L454.43,71.67 L455.78,76.35 L457.12,80.94 L458.46,85.43 L459.80,89.83 L461.15,94.14 L462.49,98.36 L463.83,102.50 L465.17,106.56 L466.51,110.54 L467.86,114.43 L469.20,118.25 L470.54,122.00 L471.88,125.67 L473.23,129.27 L474.57,132.80 L475.91,136.26 L477.25,139.66 L478.60,142.99 L479.94,146.25 L481.28,149.45 L482.62,152.59 L483.96,155.68 L485.31,158.70 L486.65,161.66 L487.99,164.57 L489.33,167.43 L490.68,170.23 L492.02,172.98 L493.36,175.67 L494.70,178.32 L496.05,180.92 L497.39,183.47 L498.73,185.97 L500.07,188.43 L501.41,190.84 L502.76,193.21 L504.10,195.53 L505.44,197.81 L506.78,200.06 L508.13,202.26 L509.47,204.42 L510.81,206.54 L512.15,208.63 L513.50,210.67 L514.84,212.68 L516.18,214.66 L517.52,216.60 L518.86,218.51 L520.21,220.38 L521.55,222.22 L522.89,224.03 L524.23,225.80 L525.58,227.55 L526.92,229.27 L528.26,230.95 L529.60,232.61 L530.95,234.24 L532.29,235.84 L533.63,237.41 L534.97,238.96 L536.31,240.48 L537.66,241.97 L539.00,243.44 L540.34,244.89 L541.68,246.31 L543.03,247.70 L544.37,249.08 L545.71,250.43 L547.05,251.76 L548.40,253.06 L549.74,254.35 L551.08,255.61 L552.42,256.85 L553.76,258.08 L555.11,259.28 L556.45,260.46 L557.79,261.62 L559.13,262.77 L560.48,263.90 L561.82,265.00 L563.16,266.09 L564.50,267.17 L565.85,268.22 L567.19,269.26 L568.53,270.28 L569.87,271.29 L571.21,272.28 L572.56,273.26 L573.90,274.22 L575.24,275.16 L576.58,276.09 L577.93,277.00 L579.27,277.91 L580.61,278.79 L581.95,279.67 L583.30,280.53 L584.64,281.37 L585.98,282.21 L587.32,283.03 L588.67,283.83 L590.01,284.63 L591.35,285.41 L592.69,286.19 L594.03,286.95 L595.38,287.69 L596.72,288.43 L598.06,289.16 L599.40,289.87 L600.75,290.58 L602.09,291.27 L603.43,291.96 L604.77,292.63 L606.12,293.30 L607.46,293.95 L608.80,294.59 L610.14,295.23 L611.48,295.85 L612.83,296.47 L614.17,297.08 L615.51,297.68 L616.85,298.27 L618.20,298.85 L619.54,299.42 L620.88,299.99 L622.22,300.54 L623.57,301.09 L624.91,301.63 L626.25,302.17 L627.59,302.69 L628.93,303.21 L630.28,303.72 L631.62,304.23 L632.96,304.72 L634.30,305.21 L635.65,305.69 L636.99,306.17 L638.33,306.64 L639.67,307.10 L641.02,307.56 L642.36,308.01 L643.70,308.45 L645.04,308.89 L646.38,309.32 L647.73,309.75 L649.07,310.17 L650.41,310.58 L651.75,310.99 L653.10,311.39 L654.44,311.79 L655.78,312.18 L657.12,312.57 L658.47,312.95 L659.81,313.33 L661.15,313.70 L662.49,314.06 L663.83,314.43 L665.18,314.78 L666.52,315.13 L667.86,315.48 L669.20,315.82 L670.55,316.16 L671.89,316.50 L673.23,316.83 L674.57,317.15 L675.92,317.47 L677.26,317.79 L678.60,318.10 L679.94,318.41 L681.28,318.71 L682.63,319.01 L683.97,319.31 L685.31,319.60 L686.65,319.89 L688.00,320.18 L689.34,320.46 L690.68,320.73 L692.02,321.01 L693.37,321.28 L694.71,321.55 L696.05,321.81 L697.39,322.07 L698.73,322.33 L700.08,322.58 L701.42,322.83 L702.76,323.08 L704.10,323.33 L705.45,323.57 L706.79,323.81 L708.13,324.04 L709.47,324.27 L710.82,324.50 L712.16,324.73 L713.50,324.96" stroke="#d4d4d4" fill="none" stroke-width="1"/>
<path d="M342.50,331.67 L343.43,331.44 L344.36,331.21 L345.29,330.98 L346.22,330.75 L347.15,330.52 L348.08,330.28 L349.01,330.05 L349.94,329.81 L350.87,329.58 L351.80,329.34 L352.73,329.10 L353.66,328.86 L354.59,328.62 L355.52,328.38 L356.45,328.14 L357.38,327.90 L358.31,327.66 L359.24,327.41 L360.17,327.17 L361.10,326.92 L362.03,326.68 L362.96,326.43 L363.89,326.19 L364.82,325.94 L365.75,325.69 L366.68,325.45 L367.61,325.20 L368.54,324.95 L369.46,324.70 L370.39,324.45 L371.32,324.20 L372.25,323.95 L373.18,323.71 L374.11,323.46 L375.04,323.21 L375.97,322.95 L376.90,322.70 L377.83,322.45 L378.76,322.20 L379.69,321.95 L380.62,321.70 L381.55,321.45 L382.48,321.20 L383.41,320.95 L384.34,320.70 L385.27,320.45 L386.20,320.20 L387.13,319.95 L388.06,319.70 L388.99,319.45 L389.92,319.20 L390.85,318.95 L391.78,318.70 L392.71,318.46 L393.64,318.21 L394.57,317.96 L395.50,317.71 L396.43,317.46 L397.36,317.22 L398.29,316.97 L399.22,316.73 L400.15,316.48 L401.08,316.24 L402.01,315.99 L402.94,315.75 L403.87,315.50 L404.80,315.26 L405.73,315.02 L406.66,314.78 L407.59,314.54 L408.52,314.30 L409.45,314.06 L410.38,313.82 L411.31,313.58 L412.24,313.35 L413.17,313.11 L414.10,312.87 L415.03,312.64 L415.96,312.40 L416.89,312.17 L417.82,311.94 L418.75,311.71 L419.68,311.48 L420.61,311.25 L421.54,311.02 L422.46,310.79 L423.39,310.56 L424.32,310.34 L425.25,310.11 L426.18,309.89 L427.11,309.66 L428.04,309.44 L428.97,309.22 L429.90,309.00 L430.83,308.78 L431.76,308.56 L432.69,308.35 L433.62,308.13 L434.55,307.91 L435.48,307.70 L436.41,307.49 L437.34,307.28 L438.27,307.07 L439.20,306.86 L440.13,306.65 L441.06,306.44 L441.99,306.23 L442.92,306.03 L443.85,305.83 L444.78,305.62 L445.71,305.42 L446.64,305.22 L447.57,305.02 L448.50,304.83 L449.43,304.63 L450.36,304.44 L451.29,304.24 L452.22,304.05 L453.15,303.86 L454.08,303.67 L455.01,303.48 L455.94,303.29 L456.87,303.11 L457.80,302.92 L458.73,302.74 L459.66,302.55 L460.59,302.37 L461.52,302.19 L462.45,302.02 L463.38,301.84 L464.31,301.66 L465.24,301.49 L466.17,301.32 L467.10,301.14 L468.03,300.97 L468.96,300.80 L469.89,300.64 L470.82,300.47 L471.75,300.30 L472.68,300.14 L473.61,299.98 L474.54,299.82 L475.46,299.66 L476.39,299.50 L477.32,299.34 L478.25,299.19 L479.18,299.03 L480.11,298.88 L481.04,298.73 L481.97,298.58 L482.90,298.43 L483.83,298.28 L484.76,298.14 L485.69,297.99 L486.62,297.85 L487.55,297.71 L488.48,297.57 L489.41,297.43 L490.34,297.29 L491.27,297.15 L492.20,297.02 L493.13,296.89 L494.06,296.75 L494.99,296.62 L495.92,296.49 L496.85,296.37 L497.78,296.24 L498.71,296.11 L499.64,295.99 L500.57,295.87 L501.50,295.75 L502.43,295.63 L503.36,295.51 L504.29,295.39 L505.22,295.27 L506.15,295.16 L507.08,295.05 L508.01,294.93 L508.94,294.82 L509.87,294.71 L510.80,294.61 L511.73,294.50 L512.66,294.39 L513.59,294.29 L514.52,294.19 L515.45,294.09 L516.38,293.99 L517.31,293.89 L518.24,293.79 L519.17,293.69 L520.10,293.60 L521.03,293.51 L521.96,293.41 L522.89,293.32 L523.82,293.23 L524.75,293.15 L525.68,293.06 L526.61,292.97 L527.54,292.89 L528.46,292.81 L529.39,292.72 L530.32,292.64 L531.25,292.56 L532.18,292.49 L533.11,292.41 L534.04,292.33 L534.97,292.26 L535.90,292.18 L536.83,292.11 L537.76,292.04 L538.69,291.97 L539.62,291.90 L540.55,291.84 L541.48,291.77 L542.41,291.71 L543.34,291.64 L544.27,291.58 L545.20,291.52 L546.13,291.46 L547.06,291.40 L547.99,291.34 L548.92,291.28 L549.85,291.23 L550.78,291.17 L551.71,291.12 L552.64,291.07 L553.57,291.02 L554.50,290.97 L555.43,290.92 L556.36,290.87 L557.29,290.83 L558.22,290.78 L559.15,290.74 L560.08,290.69 L561.01,290.65 L561.94,290.61 L562.87,290.57 L563.80,290.53 L564.73,290.49 L565.66,290.46 L566.59,290.42 L567.52,290.39 L568.45,290.35 L569.38,290.32 L570.31,290.29 L571.24,290.26 L572.17,290.23 L573.10,290.20 L574.03,290.17 L574.96,290.15 L575.89,290.12 L576.82,290.09 L577.75,290.07 L578.68,290.05 L579.61,290.03 L580.54,290.01 L581.46,289.99 L582.39,289.97 L583.32,289.95 L584.25,289.93 L585.18,289.92 L586.11,289.90 L587.04,289.89 L587.97,289.87 L588.90,289.86 L589.83,289.85 L590.76,289.84 L591.69,289.83 L592.62,289.82 L593.55,289.81 L594.48,289.81 L595.41,289.80 L596.34,289.79 L597.27,289.79 L598.20,289.79 L599.13,289.78 L600.06,289.78 L600.99,289.78 L601.92,289.78 L602.85,289.78 L603.78,289.78 L604.71,289.78 L605.64,289.79 L606.57,289.79 L607.50,289.80 L608.43,289.80 L609.36,289.81 L610.29,289.81 L611.22,289.82 L612.15,289.83 L613.08,289.84 L614.01,289.85 L614.94,289.86 L615.87,289.87 L616.80,289.88 L617.73,289.90 L618.66,289.91 L619.59,289.92 L620.52,289.94 L621.45,289.95 L622.38,289.97 L623.31,289.99 L624.24,290.01 L625.17,290.02 L626.10,290.04 L627.03,290.06 L627.96,290.08 L628.89,290.10 L629.82,290.13 L630.75,290.15 L631.68,290.17 L632.61,290.20 L633.54,290.22 L634.46,290.24 L635.39,290.27 L636.32,290.30 L637.25,290.32 L638.18,290.35 L639.11,290.38 L640.04,290.41 L640.97,290.44 L641.90,290.47 L642.83,290.50 L643.76,290.53 L644.69,290.56 L645.62,290.59 L646.55,290.62 L647.48,290.66 L648.41,290.69 L649.34,290.73 L650.27,290.76 L651.20,290.80 L652.13,290.83 L653.06,290.87 L653.99,290.90 L654.92,290.94 L655.85,290.98 L656.78,291.02 L657.71,291.06 L658.64,291.10 L659.57,291.14 L660.50,291.18 L661.43,291.22 L662.36,291.26 L663.29,291.30 L664.22,291.34 L665.15,291.39 L666.08,291.43 L667.01,291.47 L667.94,291.52 L668.87,291.56 L669.80,291.61 L670.73,291.65 L671.66,291.70 L672.59,291.75 L673.52,291.79 L674.45,291.84 L675.38,291.89 L676.31,291.94 L677.24,291.99 L678.17,292.03 L679.10,292.08 L680.03,292.13 L680.96,292.18 L681.89,292.23 L682.82,292.28 L683.75,292.34 L684.68,292.39 L685.61,292.44 L686.54,292.49 L687.46,292.54 L688.39,292.60 L689.32,292.65 L690.25,292.71 L691.18,292.76 L692.11,292.81 L693.04,292.87 L693.97,292.92 L694.90,292.98 L695.83,293.04 L696.76,293.09 L697.69,293.15 L698.62,293.20 L699.55,293.26 L700.48,293.32 L701.41,293.38 L702.34,293.44 L703.27,293.49 L704.20,293.55 L705.13,293.61 L706.06,293.67 L706.99,293.73 L707.92,293.79 L708.85,293.85 L709.78,293.91 L710.71,293.97 L711.64,294.03 L712.57,294.09 L713.50,294.15" stroke="#00b4b4" fill="none" stroke-width="1"/>
<path d="M342.50,273.12 L343.43,272.38 L344.36,271.65 L345.29,270.92 L346.22,270.19 L347.15,269.47 L348.08,268.74 L349.01,268.02 L349.94,267.30 L350.87,266.58 L351.80,265.87 L352.73,265.15 L353.66,264.44 L354.59,263.74 L355.52,263.03 L356.45,262.33 L357.38,261.63 L358.31,260.93 L359.24,260.24 L360.17,259.55 L361.10,258.86 L362.03,258.18 L362.96,257.50 L363.89,256.82 L364.82,256.15 L365.75,255.48 L366.68,254.81 L367.61,254.15 L368.54,253.49 L369.46,252.83 L370.39,252.18 L371.32,251.53 L372.25,250.89 L373.18,250.25 L374.11,249.61 L375.04,248.98 L375.97,248.35 L376.90,247.72 L377.83,247.10 L378.76,246.49 L379.69,245.87 L380.62,245.27 L381.55,244.66 L382.48,244.06 L383.41,243.47 L384.34,242.88 L385.27,242.29 L386.20,241.71 L387.13,241.13 L388.06,240.56 L388.99,239.99 L389.92,239.43 L390.85,238.87 L391.78,238.31 L392.71,237.76 L393.64,237.22 L394.57,236.68 L395.50,236.14 L396.43,235.61 L397.36,235.08 L398.29,234.56 L399.22,234.04 L400.15,233.53 L401.08,233.02 L402.01,232.52 L402.94,232.02 L403.87,231.53 L404.80,231.04 L405.73,230.56 L406.66,230.08 L407.59,229.61 L408.52,229.14 L409.45,228.68 L410.38,228.22 L411.31,227.76 L412.24,227.31 L413.17,226.87 L414.10,226.43 L415.03,226.00 L415.96,225.57 L416.89,225.14 L417.82,224.72 L418.75,224.31 L419.68,223.90 L420.61,223.49 L421.54,223.09 L422.46,222.70 L423.39,222.31 L424.32,221.92 L425.25,221.54 L426.18,221.17 L427.11,220.80 L428.04,220.43 L428.97,220.07 L429.90,219.71 L430.83,219.36 L431.76,219.02 L432.69,218.68 L433.62,218.34 L434.55,218.01 L435.48,217.68 L436.41,217.36 L437.34,217.04 L438.27,216.73 L439.20,216.42 L440.13,216.12 L441.06,215.82 L441.99,215.52 L442.92,215.23 L443.85,214.95 L444.78,214.67 L445.71,214.39 L446.64,214.12 L447.57,213.86 L448.50,213.60 L449.43,213.34 L450.36,213.09 L451.29,212.84 L452.22,212.60 L453.15,212.36 L454.08,212.12 L455.01,211.89 L455.94,211.67 L456.87,211.45 L457.80,211.23 L458.73,211.02 L459.66,210.81 L460.59,210.60 L461.52,210.41 L462.45,210.21 L463.38,210.02 L464.31,209.83 L465.24,209.65 L466.17,209.47 L467.10,209.30 L468.03,209.13 L468.96,208.96 L469.89,208.80 L470.82,208.64 L471.75,208.49 L472.68,208.34 L473.61,208.19 L474.54,208.05 L475.46,207.91 L476.39,207.78 L477.32,207.65 L478.25,207.52 L479.18,207.40 L480.11,207.28 L481.04,207.17 L481.97,207.06 L482.90,206.95 L483.83,206.85 L484.76,206.75 L485.69,206.65 L486.62,206.56 L487.55,206.47 L488.48,206.39 L489.41,206.31 L490.34,206.23 L491.27,206.16 L492.20,206.08 L493.13,206.02 L494.06,205.95 L494.99,205.89 L495.92,205.84 L496.85,205.78 L497.78,205.73 L498.71,205.69 L499.64,205.64 L500.57,205.60 L501.50,205.56 L502.43,205.53 L503.36,205.50 L504.29,205.47 L505.22,205.45 L506.15,205.43 L507.08,205.41 L508.01,205.39 L508.94,205.38 L509.87,205.37 L510.80,205.37 L511.73,205.36 L512.66,205.36 L513.59,205.37 L514.52,205.37 L515.45,205.38 L516.38,205.39 L517.31,205.41 L518.24,205.42 L519.17,205.44 L520.10,205.47 L521.03,205.49 L521.96,205.52 L522.89,205.55 L523.82,205.58 L524.75,205.62 L525.68,205.66 L526.61,205.70 L527.54,205.74 L528.46,205.79 L529.39,205.84 L530.32,205.89 L531.25,205.94 L532.18,206.00 L533.11,206.06 L534.04,206.12 L534.97,206.18 L535.90,206.25 L536.83,206.32 L537.76,206.39 L538.69,206.46 L539.62,206.53 L540.55,206.61 L541.48,206.69 L542.41,206.77 L543.34,206.86 L544.27,206.94 L545.20,207.03 L546.13,207.12 L547.06,207.21 L547.99,207.31 L548.92,207.40 L549.85,207.50 L550.78,207.60 L551.71,207.70 L552.64,207.81 L553.57,207.91 L554.50,208.02 L555.43,208.13 L556.36,208.24 L557.29,208.35 L558.22,208.47 L559.15,208.59 L560.08,208.71 L561.01,208.83 L561.94,208.95 L562.87,209.07 L563.80,209.20 L564.73,209.33 L565.66,209.45 L566.59,209.59 L567.52,209.72 L568.45,209.85 L569.38,209.99 L570.31,210.12 L571.24,210.26 L572.17,210.40 L573.10,210.54 L574.03,210.69 L574.96,210.83 L575.89,210.98 L576.82,211.13 L577.75,211.27 L578.68,211.42 L579.61,211.58 L580.54,211.73 L581.46,211.88 L582.39,212.04 L583.32,212.20 L584.25,212.35 L585.18,212.51 L586.11,212.68 L587.04,212.84 L587.97,213.00 L588.90,213.16 L589.83,213.33 L590.76,213.50 L591.69,213.67 L592.62,213.83 L593.55,214.01 L594.48,214.18 L595.41,214.35 L596.34,214.52 L597.27,214.70 L598.20,214.87 L599.13,215.05 L600.06,215.23 L600.99,215.41 L601.92,215.59 L602.85,215.77 L603.78,215.95 L604.71,216.13 L605.64,216.31 L606.57,216.50 L607.50,216.68 L608.43,216.87 L609.36,217.06 L610.29,217.25 L611.22,217.44 L612.15,217.62 L613.08,217.82 L614.01,218.01 L614.94,218.20 L615.87,218.39 L616.80,218.59 L617.73,218.78 L618.66,218.97 L619.59,219.17 L620.52,219.37 L621.45,219.56 L622.38,219.76 L623.31,219.96 L624.24,220.16 L625.17,220.36 L626.10,220.56 L627.03,220.76 L627.96,220.96 L628.89,221.17 L629.82,221.37 L630.75,221.57 L631.68,221.78 L632.61,221.98 L633.54,222.19 L634.46,222.39 L635.39,222.60 L636.32,222.81 L637.25,223.02 L638.18,223.22 L639.11,223.43 L640.04,223.64 L640.97,223.85 L641.90,224.06 L642.83,224.27 L643.76,224.48 L644.69,224.69 L645.62,224.90 L646.55,225.12 L647.48,225.33 L648.41,225.54 L649.34,225.75 L650.27,225.97 L651.20,226.18 L652.13,226.40 L653.06,226.61 L653.99,226.83 L654.92,227.04 L655.85,227.26 L656.78,227.47 L657.71,227.69 L658.64,227.90 L659.57,228.12 L660.50,228.34 L661.43,228.56 L662.36,228.77 L663.29,228.99 L664.22,229.21 L665.15,229.43 L666.08,229.65 L667.01,229.86 L667.94,230.08 L668.87,230.30 L669.80,230.52 L670.73,230.74 L671.66,230.96 L672.59,231.18 L673.52,231.40 L674.45,231.62 L675.38,231.84 L676.31,232.06 L677.24,232.28 L678.17,232.50 L679.10,232.72 L680.03,232.94 L680.96,233.16 L681.89,233.38 L682.82,233.61 L683.75,233.83 L684.68,234.05 L685.61,234.27 L686.54,234.49 L687.46,234.71 L688.39,234.93 L689.32,235.15 L690.25,235.38 L691.18,235.60 L692.11,235.82 L693.04,236.04 L693.97,236.26 L694.90,236.48 L695.83,236.71 L696.76,236.93 L697.69,237.15 L698.62,237.37 L699.55,237.59 L700.48,237.81 L701.41,238.04 L702.34,238.26 L703.27,238.48 L704.20,238.70 L705.13,238.92 L706.06,239.14 L706.99,239.36 L707.92,239.58 L708.85,239.81 L709.78,240.03 L710.71,240.25 L711.64,240.47 L712.57,240.69 L713.50,240.91" stroke="#d41c1c" fill="none" stroke-width="1"/>
<path d="M342.50,116.44 L343.43,115.02 L344.36,113.61 L345.29,112.22 L346.22,110.84 L347.15,109.47 L348.08,108.11 L349.01,106.77 L349.94,105.45 L350.87,104.14 L351.80,102.84 L352.73,101.55 L353.66,100.28 L354.59,99.03 L355.52,97.79 L356.45,96.56 L357.38,95.35 L358.31,94.15 L359.24,92.96 L360.17,91.79 L361.10,90.64 L362.03,89.50 L362.96,88.37 L363.89,87.26 L364.82,86.16 L365.75,85.08 L366.68,84.01 L367.61,82.95 L368.54,81.91 L369.46,80.89 L370.39,79.88 L371.32,78.88 L372.25,77.90 L373.18,76.93 L374.11,75.98 L375.04,75.04 L375.97,74.11 L376.90,73.20 L377.83,72.31 L378.76,71.43 L379.69,70.56 L380.62,69.71 L381.55,68.87 L382.48,68.04 L383.41,67.23 L384.34,66.43 L385.27,65.65 L386.20,64.88 L387.13,64.12 L388.06,63.38 L388.99,62.66 L389.92,61.94 L390.85,61.24 L391.78,60.55 L392.71,59.88 L393.64,59.22 L394.57,58.57 L395.50,57.94 L396.43,57.32 L397.36,56.71 L398.29,56.12 L399.22,55.54 L400.15,54.97 L401.08,54.42 L402.01,53.88 L402.94,53.35 L403.87,52.83 L404.80,52.33 L405.73,51.84 L406.66,51.36 L407.59,50.89 L408.52,50.44 L409.45,50.00 L410.38,49.57 L411.31,49.15 L412.24,48.75 L413.17,48.35 L414.10,47.97 L415.03,47.60 L415.96,47.25 L416.89,46.90 L417.82,46.57 L418.75,46.24 L419.68,45.93 L420.61,45.63 L421.54,45.34 L422.46,45.07 L423.39,44.80 L424.32,44.54 L425.25,44.30 L426.18,44.06 L427.11,43.84 L428.04,43.63 L428.97,43.42 L429.90,43.23 L430.83,43.05 L431.76,42.88 L432.69,42.72 L433.62,42.57 L434.55,42.43 L435.48,42.29 L436.41,42.17 L437.34,42.06 L438.27,41.96 L439.20,41.87 L440.13,41.78 L441.06,41.71 L441.99,41.65 L442.92,41.59 L443.85,41.55 L444.78,41.51 L445.71,41.48 L446.64,41.46 L447.57,41.45 L448.50,41.45 L449.43,41.46 L450.36,41.47 L451.29,41.50 L452.22,41.53 L453.15,41.57 L454.08,41.62 L455.01,41.67 L455.94,41.74 L456.87,41.81 L457.80,41.89 L458.73,41.98 L459.66,42.08 L460.59,42.18 L461.52,42.29 L462.45,42.41 L463.38,42.54 L464.31,42.67 L465.24,42.81 L466.17,42.96 L467.10,43.11 L468.03,43.27 L468.96,43.44 L469.89,43.62 L470.82,43.80 L471.75,43.99 L472.68,44.18 L473.61,44.38 L474.54,44.59 L475.46,44.80 L476.39,45.03 L477.32,45.25 L478.25,45.48 L479.18,45.72 L480.11,45.97 L481.04,46.22 L481.97,46.47 L482.90,46.74 L483.83,47.00 L484.76,47.28 L485.69,47.56 L486.62,47.84 L487.55,48.13 L488.48,48.43 L489.41,48.73 L490.34,49.03 L491.27,49.34 L492.20,49.66 L493.13,49.98 L494.06,50.30 L494.99,50.63 L495.92,50.97 L496.85,51.31 L497.78,51.65 L498.71,52.00 L499.64,52.35 L500.57,52.71 L501.50,53.07 L502.43,53.44 L503.36,53.81 L504.29,54.18 L505.22,54.56 L506.15,54.95 L507.08,55.33 L508.01,55.72 L508.94,56.12 L509.87,56.52 L510.80,56.92 L511.73,57.32 L512.66,57.73 L513.59,58.15 L514.52,58.56 L515.45,58.98 L516.38,59.41 L517.31,59.83 L518.24,60.26 L519.17,60.70 L520.10,61.14 L521.03,61.58 L521.96,62.02 L522.89,62.46 L523.82,62.91 L524.75,63.37 L525.68,63.82 L526.61,64.28 L527.54,64.74 L528.46,65.20 L529.39,65.67 L530.32,66.14 L531.25,66.61 L532.18,67.08 L533.11,67.56 L534.04,68.04 L534.97,68.52 L535.90,69.00 L536.83,69.49 L537.76,69.97 L538.69,70.46 L539.62,70.96 L540.55,71.45 L541.48,71.95 L542.41,72.45 L543.34,72.95 L544.27,73.45 L545.20,73.95 L546.13,74.46 L547.06,74.97 L547.99,75.48 L548.92,75.99 L549.85,76.50 L550.78,77.02 L551.71,77.54 L552.64,78.06 L553.57,78.58 L554.50,79.10 L555.43,79.62 L556.36,80.14 L557.29,80.67 L558.22,81.20 L559.15,81.73 L560.08,82.26 L561.01,82.79 L561.94,83.32 L562.87,83.86 L563.80,84.39 L564.73,84.93 L565.66,85.46 L566.59,86.00 L567.52,86.54 L568.45,87.08 L569.38,87.62 L570.31,88.17 L571.24,88.71 L572.17,89.25 L573.10,89.80 L574.03,90.34 L574.96,90.89 L575.89,91.44 L576.82,91.99 L577.75,92.54 L578.68,93.09 L579.61,93.64 L580.54,94.19 L581.46,94.74 L582.39,95.29 L583.32,95.84 L584.25,96.40 L585.18,96.95 L586.11,97.50 L587.04,98.06 L587.97,98.61 L588.90,99.17 L589.83,99.73 L590.76,100.28 L591.69,100.84 L592.62,101.39 L593.55,101.95 L594.48,102.51 L595.41,103.07 L596.34,103.63 L597.27,104.18 L598.20,104.74 L599.13,105.30 L600.06,105.86 L600.99,106.42 L601.92,106.98 L602.85,107.53 L603.78,108.09 L604.71,108.65 L605.64,109.21 L606.57,109.77 L607.50,110.33 L608.43,110.89 L609.36,111.45 L610.29,112.01 L611.22,112.56 L612.15,113.12 L613.08,113.68 L614.01,114.24 L614.94,114.80 L615.87,115.35 L616.80,115.91 L617.73,116.47 L618.66,117.03 L619.59,117.58 L620.52,118.14 L621.45,118.70 L622.38,119.25 L623.31,119.81 L624.24,120.36 L625.17,120.92 L626.10,121.47 L627.03,122.03 L627.96,122.58 L628.89,123.13 L629.82,123.69 L630.75,124.24 L631.68,124.79 L632.61,125.34 L633.54,125.90 L634.46,126.45 L635.39,127.00 L636.32,127.55 L637.25,128.10 L638.18,128.64 L639.11,129.19 L640.04,129.74 L640.97,130.29 L641.90,130.83 L642.83,131.38 L643.76,131.93 L644.69,132.47 L645.62,133.01 L646.55,133.56 L647.48,134.10 L648.41,134.64 L649.34,135.18 L650.27,135.72 L651.20,136.26 L652.13,136.80 L653.06,137.34 L653.99,137.88 L654.92,138.42 L655.85,138.95 L656.78,139.49 L657.71,140.03 L658.64,140.56 L659.57,141.09 L660.50,141.63 L661.43,142.16 L662.36,142.69 L663.29,143.22 L664.22,143.75 L665.15,144.28 L666.08,144.81 L667.01,145.33 L667.94,145.86 L668.87,146.39 L669.80,146.91 L670.73,147.43 L671.66,147.96 L672.59,148.48 L673.52,149.00 L674.45,149.52 L675.38,150.04 L676.31,150.56 L677.24,151.08 L678.17,151.59 L679.10,152.11 L680.03,152.62 L680.96,153.14 L681.89,153.65 L682.82,154.16 L683.75,154.67 L684.68,155.18 L685.61,155.69 L686.54,156.20 L687.46,156.71 L688.39,157.22 L689.32,157.72 L690.25,158.23 L691.18,158.73 L692.11,159.23 L693.04,159.73 L693.97,160.23 L694.90,160.73 L695.83,161.23 L696.76,161.73 L697.69,162.23 L698.62,162.72 L699.55,163.22 L700.48,163.71 L701.41,164.20 L702.34,164.70 L703.27,165.19 L704.20,165.68 L705.13,166.16 L706.06,166.65 L706.99,167.14 L707.92,167.62 L708.85,168.11 L709.78,168.59 L710.71,169.07 L711.64,169.56 L712.57,170.04 L713.50,170.51" stroke="#087508" fill="none" stroke-width="1"/>
<path d="M157.2,95.5 H168.2 M160.2,92.5 L157.2,95.5 L160.2,98.5" stroke="#111" fill="none" stroke-width="1.1"/>
<path d="M157.2,234.5 H168.2 M160.2,231.5 L157.2,234.5 L160.2,237.5" stroke="#111" fill="none" stroke-width="1.1"/>
<path d="M157.2,307.5 H168.2 M160.2,304.5 L157.2,307.5 L160.2,310.5" stroke="#111" fill="none" stroke-width="1.1"/>
<path d="M390.8,64.5 H401.8 M393.8,61.5 L390.8,64.5 L393.8,67.5" stroke="#111" fill="none" stroke-width="1.1"/>
<path d="M390.8,241.5 H401.8 M393.8,238.5 L390.8,241.5 L393.8,244.5" stroke="#111" fill="none" stroke-width="1.1"/>
<path d="M390.8,320.5 H401.8 M393.8,317.5 L390.8,320.5 L393.8,323.5" stroke="#111" fill="none" stroke-width="1.1"/>
<g fill="#000" style="filter:grayscale(1)">
<text x="40.0" y="351.0" text-anchor="end" font-size="12.50" >0</text>
<text x="40.0" y="311.4" text-anchor="end" font-size="12.50" >1</text>
<text x="40.0" y="271.8" text-anchor="end" font-size="12.50" >2</text>
<text x="40.0" y="232.1" text-anchor="end" font-size="12.50" >3</text>
<text x="40.0" y="192.5" text-anchor="end" font-size="12.50" >4</text>
<text x="40.0" y="152.9" text-anchor="end" font-size="12.50" >5</text>
<text x="40.0" y="113.2" text-anchor="end" font-size="12.50" >6</text>
<text x="40.0" y="73.6" text-anchor="end" font-size="12.50" >7</text>
<text x="40.0" y="34.0" text-anchor="end" font-size="12.50" >8</text>
<text x="44.5" y="362.4" text-anchor="middle" font-size="12.50" >0</text>
<text x="89.0" y="362.4" text-anchor="middle" font-size="12.50" >1</text>
<text x="133.5" y="362.4" text-anchor="middle" font-size="12.50" >2</text>
<text x="178.0" y="362.4" text-anchor="middle" font-size="12.50" >3</text>
<text x="222.5" y="362.4" text-anchor="middle" font-size="12.50" >4</text>
<text x="267.0" y="362.4" text-anchor="middle" font-size="12.50" >5</text>
<text x="311.5" y="362.4" text-anchor="middle" font-size="12.50" >6</text>
<text x="718.1" y="351.0" text-anchor="start" font-size="12.50" >0</text>
<text x="718.1" y="305.7" text-anchor="start" font-size="12.50" >1</text>
<text x="718.1" y="260.4" text-anchor="start" font-size="12.50" >2</text>
<text x="718.1" y="215.1" text-anchor="start" font-size="12.50" >3</text>
<text x="718.1" y="169.9" text-anchor="start" font-size="12.50" >4</text>
<text x="718.1" y="124.6" text-anchor="start" font-size="12.50" >5</text>
<text x="718.1" y="79.3" text-anchor="start" font-size="12.50" >6</text>
<text x="718.1" y="34.0" text-anchor="start" font-size="12.50" >7</text>
<text x="342.5" y="362.4" text-anchor="middle" font-size="12.50" >6</text>
<text x="388.9" y="362.4" text-anchor="middle" font-size="12.50" >7</text>
<text x="435.2" y="362.4" text-anchor="middle" font-size="12.50" >8</text>
<text x="481.6" y="362.4" text-anchor="middle" font-size="12.50" >9</text>
<text x="528.0" y="362.4" text-anchor="middle" font-size="12.50" >10</text>
<text x="574.4" y="362.4" text-anchor="middle" font-size="12.50" >11</text>
<text x="620.8" y="362.4" text-anchor="middle" font-size="12.50" >12</text>
<text x="667.1" y="362.4" text-anchor="middle" font-size="12.50" >13</text>
<text x="713.5" y="362.4" text-anchor="middle" font-size="12.50" >14</text>
<text x="178.0" y="378.6" text-anchor="middle" font-size="12.50" >Wavelength (µm)</text>
<text x="528.0" y="378.6" text-anchor="middle" font-size="12.50" >Wavelength (µm)</text>
<text x="45" y="23.1" font-size="12.50">x 10<tspan font-size="9" dy="-9.6">9</tspan></text>
<text x="713.6" y="23.1" font-size="12.50">x 10<tspan font-size="9" dy="-9.6">7</tspan></text>
<text transform="translate(23.4,187.1) rotate(-90)" text-anchor="middle" font-size="12.50">Monochromatic Irradiance (W/m<tspan font-size="8.5" dy="-5">3</tspan><tspan dy="5">)</tspan></text>
<text transform="translate(744.3,186.7) rotate(-90)" text-anchor="middle" font-size="12.50">Monochromatic Irradiance (W/m<tspan font-size="8.5" dy="-5">3</tspan><tspan dy="5">)</tspan></text>
<text x="172.2" y="98.2" text-anchor="start" font-size="12.50" >T = 900 K</text>
<text x="172.2" y="237.0" text-anchor="start" font-size="12.50" >T = 800 K</text>
<text x="172.2" y="310.0" text-anchor="start" font-size="12.50" >T = 700 K</text>
<text x="405.8" y="67.5" text-anchor="start" font-size="12.50" >T = 350 K</text>
<text x="405.8" y="244.3" text-anchor="start" font-size="12.50" >T = 300 K</text>
<text x="405.8" y="323.7" text-anchor="start" font-size="12.50" >T = 250 K</text>
<text x="155.8" y="408.2" text-anchor="middle" font-family="Liberation Serif, serif" font-size="15.5">(a)</text>
<text x="540.4" y="408.2" text-anchor="middle" font-family="Liberation Serif, serif" font-size="15.5">(b)</text>
</g>
</svg>
</body></html>
